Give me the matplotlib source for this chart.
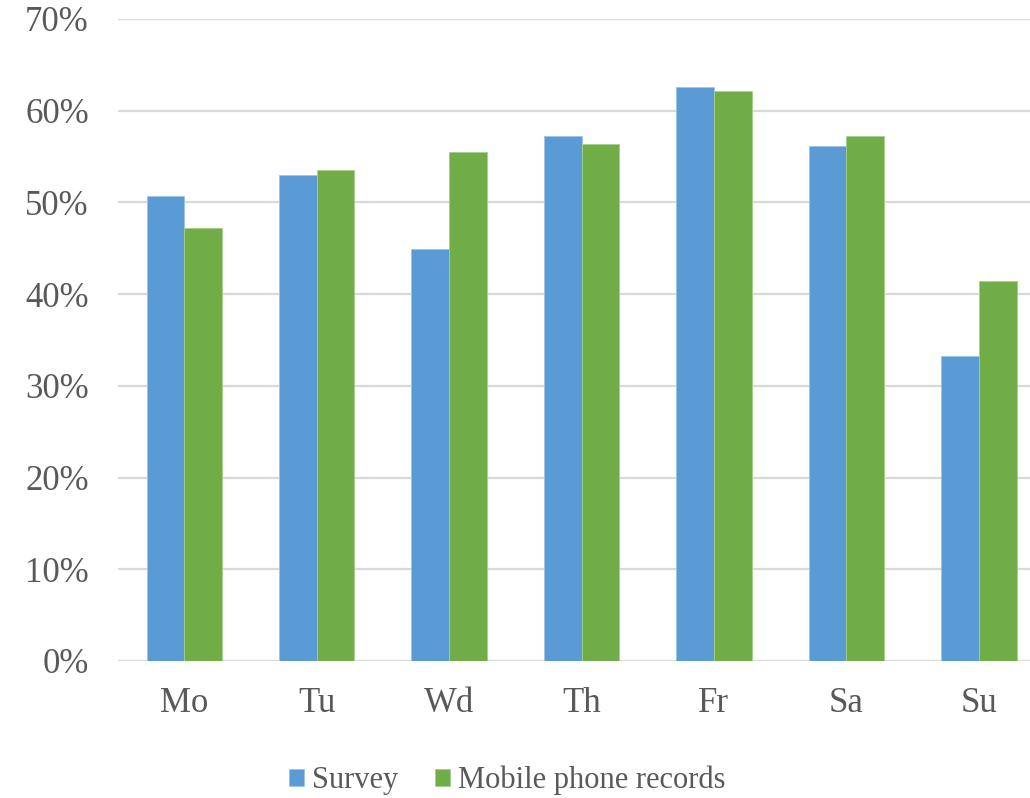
import matplotlib
matplotlib.use("Agg")
import matplotlib.pyplot as plt
import numpy as np
from matplotlib.ticker import FuncFormatter

days = ["Mo", "Tu", "Wd", "Th", "Fr", "Sa", "Su"]
survey = [50.7, 53.0, 44.9, 57.2, 62.6, 56.2, 33.3]
mobile = [47.2, 53.5, 55.5, 56.4, 62.2, 57.2, 41.4]
yticks = [0, 10, 20, 30, 40, 50, 60, 70]

plt.rcParams["font.family"] = ["Liberation Serif", "DejaVu Serif"]

fig = plt.figure(figsize=(10.30, 7.98), dpi=100)
ax = fig.add_axes([0.1146, 0.1717, 0.9, 0.8045])

x = np.arange(len(days))
w = 0.285
ax.bar(x - w / 2, survey, w, color="#5B9BD5", edgecolor="#9cc3e8", linewidth=0.6,
       label="Survey", zorder=3)
ax.bar(x + w / 2, mobile, w, color="#70AD47", edgecolor="#a6cf8c", linewidth=0.6,
       label="Mobile phone records", zorder=3)

ax.set_xlim(-0.5, len(days) - 0.5)
ax.set_ylim(0, 70)
ax.set_yticks(yticks)
ax.yaxis.set_major_formatter(FuncFormatter(lambda v, p: f"{v:.0f}%"))
ax.set_xticks(x)
ax.set_xticklabels(days)

ax.grid(axis="y", color="#d9d9d9", linewidth=1.6, zorder=0)
ax.set_axisbelow(True)
for s in ax.spines.values():
    s.set_visible(False)
ax.tick_params(axis="both", length=0, labelsize=25, colors="#595959")
ax.tick_params(axis="y", pad=21)
ax.tick_params(axis="x", pad=19)

leg = fig.legend(loc="center", bbox_to_anchor=(0.4925, 0.022), ncol=2, frameon=False,
                 fontsize=22, handlelength=0.5, handleheight=0.5, handletextpad=0.25,
                 columnspacing=1.2, labelcolor="#595959")

fig.savefig("out.png", dpi=100)
